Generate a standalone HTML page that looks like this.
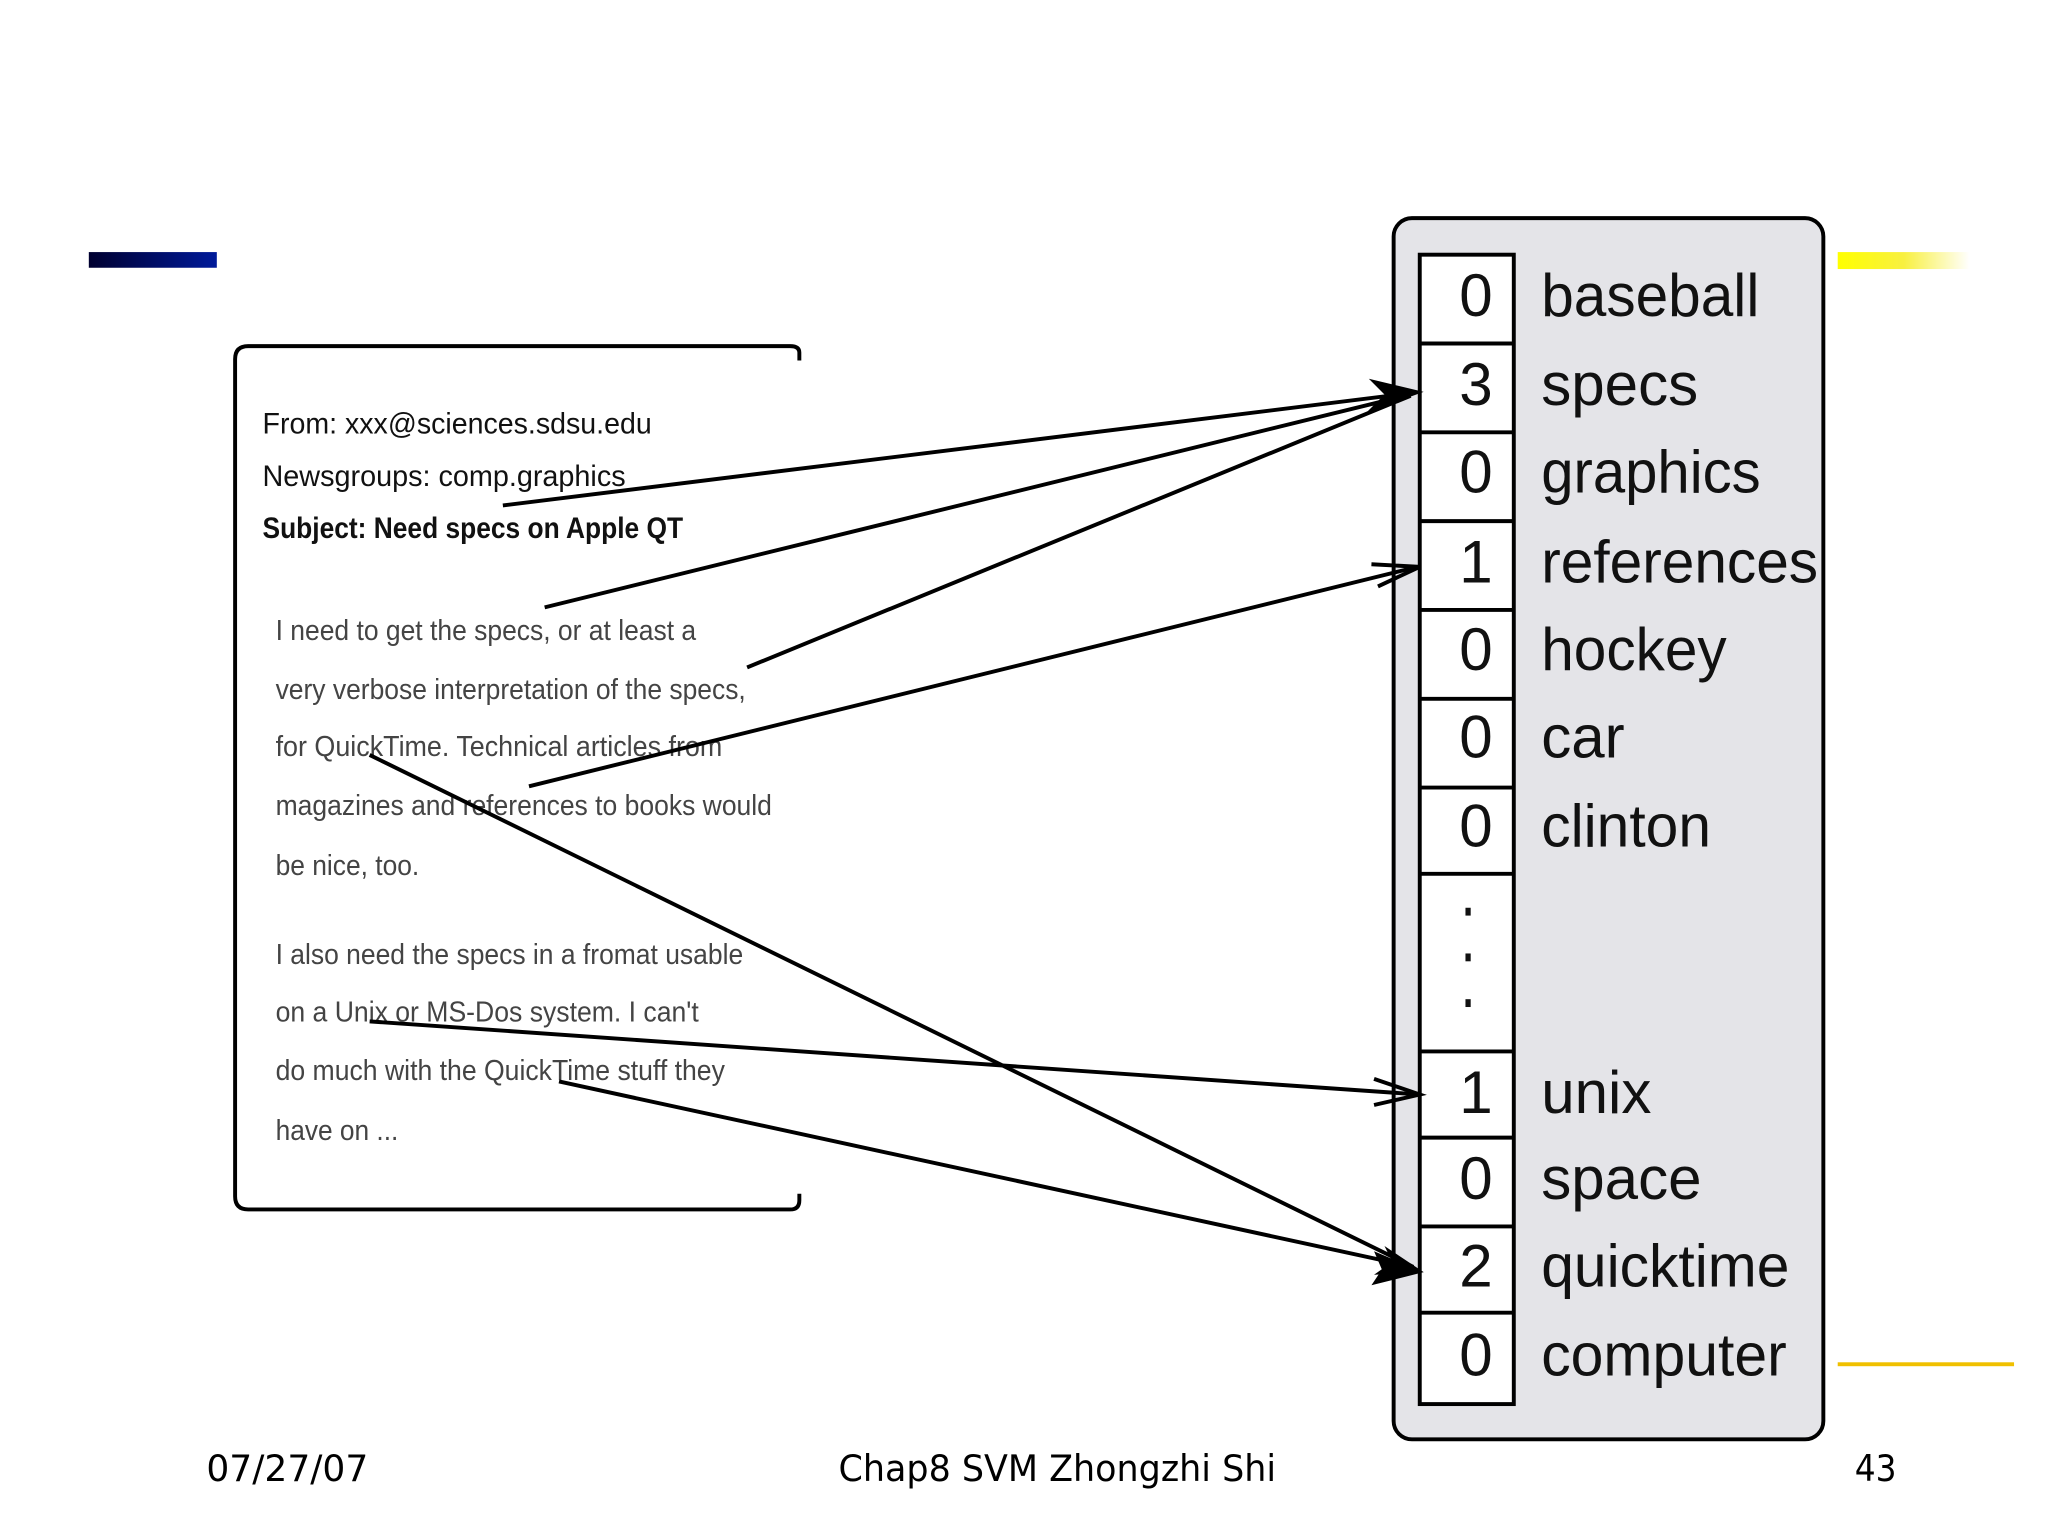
<!DOCTYPE html>
<html><head><meta charset="utf-8"><style>
html,body{margin:0;padding:0;background:#fff;width:2048px;height:1536px;overflow:hidden}
svg{display:block}
</style></head><body>
<svg width="2048" height="1536" viewBox="0 0 1568 1176" xmlns="http://www.w3.org/2000/svg">
<defs>
<linearGradient id="yg" x1="0" x2="1"><stop offset="0" stop-color="#ffff00"/><stop offset="0.5" stop-color="#f8f040"/><stop offset="1" stop-color="#ffffff"/></linearGradient>
<linearGradient id="bg" x1="0" x2="1"><stop offset="0" stop-color="#000030"/><stop offset="1" stop-color="#001a9a"/></linearGradient>
</defs>
<rect x="68" y="193" width="98" height="12" fill="url(#bg)"/>
<rect x="1407" y="193" width="101" height="13" fill="url(#yg)"/>
<rect x="1407" y="1043" width="135" height="3" fill="#f0c000"/>

<rect x="1067" y="167" width="329" height="935" rx="14" fill="#e4e4e8" stroke="#000" stroke-width="3"/>
<rect x="1087" y="195" width="72" height="880" stroke="#000" stroke-width="3" fill="#fff"/>
<g stroke="#000" stroke-width="3">
<line x1="1087" y1="263" x2="1159" y2="263"/><line x1="1087" y1="331" x2="1159" y2="331"/>
<line x1="1087" y1="399" x2="1159" y2="399"/><line x1="1087" y1="467" x2="1159" y2="467"/>
<line x1="1087" y1="535" x2="1159" y2="535"/><line x1="1087" y1="603" x2="1159" y2="603"/>
<line x1="1087" y1="669" x2="1159" y2="669"/><line x1="1087" y1="805" x2="1159" y2="805"/>
<line x1="1087" y1="871" x2="1159" y2="871"/><line x1="1087" y1="939" x2="1159" y2="939"/>
<line x1="1087" y1="1005" x2="1159" y2="1005"/>
</g>
<g font-family="Liberation Sans, sans-serif" font-size="46" fill="#111">
<g text-anchor="middle">
<text x="1130" y="242">0</text><text x="1130" y="310">3</text><text x="1130" y="377">0</text>
<text x="1130" y="446">1</text><text x="1130" y="513">0</text><text x="1130" y="580">0</text>
<text x="1130" y="648">0</text><text x="1130" y="852">1</text><text x="1130" y="918">0</text>
<text x="1130" y="985">2</text><text x="1130" y="1053">0</text>
</g>
<text x="1180" y="242" textLength="167" lengthAdjust="spacingAndGlyphs">baseball</text><text x="1180" y="310">specs</text><text x="1180" y="377" textLength="168" lengthAdjust="spacingAndGlyphs">graphics</text>
<text x="1180" y="446" textLength="212" lengthAdjust="spacingAndGlyphs">references</text><text x="1180" y="513" textLength="142" lengthAdjust="spacingAndGlyphs">hockey</text><text x="1180" y="580">car</text>
<text x="1180" y="648" textLength="130" lengthAdjust="spacingAndGlyphs">clinton</text><text x="1180" y="852">unix</text><text x="1180" y="918">space</text>
<text x="1180" y="985" textLength="190" lengthAdjust="spacingAndGlyphs">quicktime</text><text x="1180" y="1053" textLength="188" lengthAdjust="spacingAndGlyphs">computer</text>
</g>
<g fill="#111"><rect x="1122" y="695" width="4" height="6"/><rect x="1122" y="730" width="4" height="6"/><rect x="1122" y="765" width="4" height="6"/></g>

<path d="M612 276 L612 270 Q612 265 605 265 L190 265 Q180 265 180 275 L180 916 Q180 926 190 926 L605 926 Q612 926 612 919 L612 914" fill="#fff" stroke="#000" stroke-width="3"/>
<g font-family="Liberation Sans Narrow, Liberation Sans, sans-serif" fill="#111" font-size="23">
<text x="201" y="332" textLength="298" lengthAdjust="spacingAndGlyphs">From: xxx@sciences.sdsu.edu</text>
<text x="201" y="372" textLength="278" lengthAdjust="spacingAndGlyphs">Newsgroups: comp.graphics</text>
<text x="201" y="412" textLength="322" lengthAdjust="spacingAndGlyphs" font-weight="bold">Subject: Need specs on Apple QT</text>
</g>
<g font-family="Liberation Sans Narrow, Liberation Sans, sans-serif" fill="#444" font-size="22">
<text x="211" y="490" textLength="322" lengthAdjust="spacingAndGlyphs">I need to get the specs, or at least a</text>
<text x="211" y="535" textLength="360" lengthAdjust="spacingAndGlyphs">very verbose interpretation of the specs,</text>
<text x="211" y="579" textLength="342" lengthAdjust="spacingAndGlyphs">for QuickTime. Technical articles from</text>
<text x="211" y="624" textLength="380" lengthAdjust="spacingAndGlyphs">magazines and references to books would</text>
<text x="211" y="670" textLength="110" lengthAdjust="spacingAndGlyphs">be nice, too.</text>
<text x="211" y="738" textLength="358" lengthAdjust="spacingAndGlyphs">I also need the specs in a fromat usable</text>
<text x="211" y="782" textLength="324" lengthAdjust="spacingAndGlyphs">on a Unix or MS-Dos system. I can't</text>
<text x="211" y="827" textLength="344" lengthAdjust="spacingAndGlyphs">do much with the QuickTime stuff they</text>
<text x="211" y="873" textLength="94" lengthAdjust="spacingAndGlyphs">have on ...</text>
</g>

<g stroke="#000" stroke-width="3" fill="none">
<line x1="385" y1="387" x2="1080" y2="301"/>
<line x1="417" y1="465" x2="1080" y2="302"/>
<line x1="572" y1="511" x2="1080" y2="303"/>
<line x1="405" y1="602" x2="1085" y2="434"/>
<line x1="283" y1="578" x2="1082" y2="970"/>
<line x1="283" y1="782" x2="1087" y2="838"/>
<line x1="428" y1="828" x2="1082" y2="970"/>
<polyline points="1050,432 1087,434 1055,449"/>
<polyline points="1052,826 1087,838 1052,846"/>
</g>
<polygon points="1090,300 1048,290 1060,302 1046,316" fill="#000"/>
<polygon points="1090,974 1060,954 1066,966 1052,976" fill="#000"/>
<polygon points="1090,974 1052,958 1058,972 1050,984" fill="#000"/>

<g font-family="DejaVu Sans, Liberation Sans, sans-serif" font-size="28" fill="#000">
<text x="158" y="1134" textLength="124" lengthAdjust="spacingAndGlyphs">07/27/07</text>
<text x="642" y="1134" textLength="335" lengthAdjust="spacingAndGlyphs">Chap8 SVM Zhongzhi Shi</text>
<text x="1420" y="1134" textLength="32" lengthAdjust="spacingAndGlyphs">43</text>
</g>
</svg>
</body></html>
